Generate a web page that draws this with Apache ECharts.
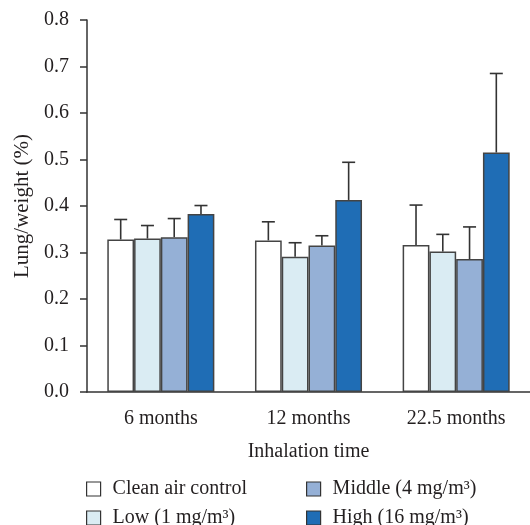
<!DOCTYPE html>
<html>
<head>
<meta charset="utf-8">
<script src="https://cdn.jsdelivr.net/npm/echarts@6/dist/echarts.min.js"></script>
<style>
  html, body { margin: 0; padding: 0; background: #fff; }
  #chart { width: 530px; height: 525px; }
</style>
</head>
<body>
<div id="chart"></div>
<script>
// data
var categories = ['6 months', '12 months', '22.5 months']
var groupNames = ['Clean air control', 'Low (1 mg/m³)', 'Middle (4 mg/m³)', 'High (16 mg/m³)']
var groupColors = ['#ffffff', '#daecf3', '#95b0d6', '#1f6db5']
var cleanMean = [0.328, 0.326, 0.316]
var cleanUpper = [0.371, 0.366, 0.402]
var lowMean = [0.330, 0.291, 0.302]
var lowUpper = [0.358, 0.321, 0.339]
var middleMean = [0.333, 0.315, 0.286]
var middleUpper = [0.373, 0.336, 0.355]
var highMean = [0.383, 0.413, 0.515]
var highUpper = [0.401, 0.494, 0.685]
var yTicks = [0, 0.1, 0.2, 0.3, 0.4, 0.5, 0.6, 0.7, 0.8]

var means = [cleanMean, lowMean, middleMean, highMean]
var uppers = [cleanUpper, lowUpper, middleUpper, highUpper]

var FONT = 'Liberation Serif'
var TXT = '#231f20'
var LINE = '#333333'
var FS = 20
var catGap = 0.275

var series = []
means.forEach(function (m, i) {
  series.push({
    name: groupNames[i],
    type: 'bar',
    data: m,
    barGap: 0,
    barCategoryGap: (catGap * 100) + '%',
    itemStyle: { color: groupColors[i], borderColor: '#444', borderWidth: 1.5 },
    z: 2
  })
})
uppers.forEach(function (u, i) {
  series.push({
    name: 'err' + i,
    type: 'custom',
    z: 3,
    data: u.map(function (v, k) { return [k, means[i][k], v] }),
    encode: { x: 0, y: [1, 2] },
    renderItem: function (params, api) {
      var c = api.value(0)
      var bw = api.size([1, 0])[0] * (1 - catGap) / 4
      var top = api.coord([c, api.value(2)])
      var bot = api.coord([c, api.value(1)])
      var x = top[0] + (i - 1.5) * bw
      var cap = 6.5
      var st = { stroke: LINE, lineWidth: 1.6 }
      return {
        type: 'group',
        children: [
          { type: 'line', shape: { x1: x, y1: bot[1], x2: x, y2: top[1] }, style: st },
          { type: 'line', shape: { x1: x - cap, y1: top[1], x2: x + cap, y2: top[1] }, style: st }
        ]
      }
    }
  })
})

var legendText = { fontFamily: FONT, fontSize: FS, color: TXT, lineHeight: 20, padding: [0, 0, 0, 7] }
var legendItem = { borderColor: '#333', borderWidth: 1.2 }

var option = {
  animation: false,
  textStyle: { fontFamily: FONT, color: TXT },
  grid: { left: 87, right: -4, top: 20, bottom: 133 },
  legend: [{
    orient: 'vertical',
    left: 86, top: 479, height: 60, padding: 0,
    itemWidth: 14, itemHeight: 14, itemGap: 9,
    icon: 'rect',
    data: [groupNames[0], groupNames[1]],
    itemStyle: legendItem,
    textStyle: legendText
  }, {
    orient: 'vertical',
    left: 306, top: 479, height: 60, padding: 0,
    itemWidth: 14, itemHeight: 14, itemGap: 9,
    icon: 'rect',
    data: [groupNames[2], groupNames[3]],
    itemStyle: legendItem,
    textStyle: legendText
  }],
  xAxis: {
    type: 'category',
    data: categories,
    name: 'Inhalation time',
    nameLocation: 'middle',
    nameGap: 50,
    nameTextStyle: { fontFamily: FONT, fontSize: FS, color: TXT },
    axisLine: { lineStyle: { color: LINE, width: 1.5 } },
    axisTick: { length: 7, lineStyle: { color: LINE, width: 1.5 } },
    axisLabel: { fontFamily: FONT, fontSize: FS, color: TXT, margin: 17 }
  },
  yAxis: {
    type: 'value',
    min: yTicks[0],
    max: yTicks[yTicks.length - 1],
    interval: 0.1,
    name: 'Lung/weight (%)',
    nameLocation: 'middle',
    nameGap: 54,
    nameTextStyle: { fontFamily: FONT, fontSize: 21, color: TXT },
    splitLine: { show: false },
    axisLine: { show: true, lineStyle: { color: LINE, width: 1.5 } },
    axisTick: { show: true, length: 7, lineStyle: { color: LINE, width: 1.5 } },
    axisLabel: {
      fontFamily: FONT, fontSize: FS, color: TXT, margin: 18,
      formatter: function (v) { return v.toFixed(1) }
    }
  },
  series: series
}

var chart = echarts.init(document.getElementById('chart'))
chart.setOption(option)
</script>
</body>
</html>
